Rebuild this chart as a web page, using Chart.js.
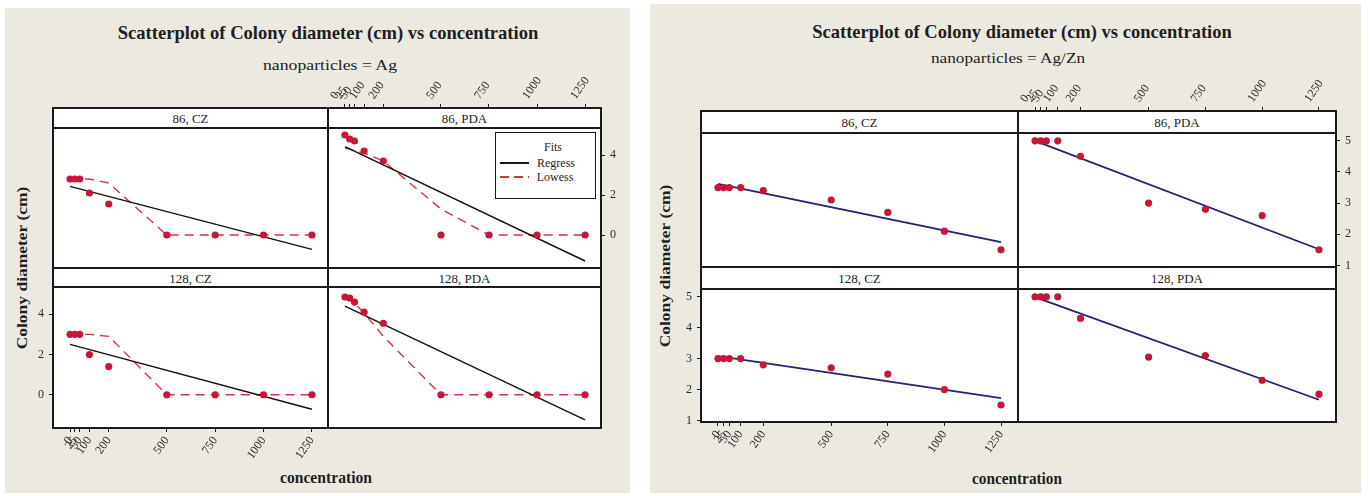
<!DOCTYPE html>
<html>
<head>
<meta charset="utf-8">
<script src="https://cdn.jsdelivr.net/npm/chart.js@4.4.1/dist/chart.umd.min.js"></script>
<style>
  html, body { margin: 0; padding: 0; background: #fff; width: 1370px; height: 496px; overflow: hidden; position: relative; }
  .bg   { position: absolute; background: #ece9e1; }
  .fill { position: absolute; background: #fff; }
  .rule { position: absolute; background: #1a1a1a; }
  .txt  { position: absolute; white-space: nowrap; color: #1e1e1e; line-height: 1; transform-origin: center center; }
  .legend { position: absolute; background: #fff; border: 1.5px solid #1a1a1a; box-sizing: border-box; }
  canvas { position: absolute; }
</style>
</head>
<body>
<script>
/* ─── Data ──────────────────────────────────────── */
const concentration = [0, 25, 50, 100, 200, 500, 750, 1000, 1250];
const concTicks     = [0, 25, 50, 100, 200, 500, 750, 1000, 1250];
const yTicksAg      = [0, 2, 4];
const yTicksAgZn    = [1, 2, 3, 4, 5];
const fitEnds       = [0, 1250];

// nanoparticles = Ag
const ag86CZ         = [2.8, 2.8, 2.8, 2.1, 1.55, 0, 0, 0, 0];
const ag86PDA        = [5.0, 4.8, 4.7, 4.2, 3.7, 0, 0, 0, 0];
const ag128CZ        = [3.0, 3.0, 3.0, 2.0, 1.4, 0, 0, 0, 0];
const ag128PDA       = [4.85, 4.8, 4.6, 4.1, 3.55, 0, 0, 0, 0];
const ag86CZReg      = [2.43, -0.72];
const ag86PDAReg     = [4.42, -1.3];
const ag128CZReg     = [2.5, -0.72];
const ag128PDAReg    = [4.4, -1.25];
const ag86CZLowess   = [2.8, 2.8, 2.8, 2.8, 2.6, 0, 0, 0, 0];
const ag86PDALowess  = [4.35, 4.3, 4.2, 4.1, 3.7, 1.3, 0, 0, 0];
const ag128CZLowess  = [3.0, 3.0, 3.0, 3.0, 2.9, 0, 0, 0, 0];
const ag128PDALowess = [4.75, 4.7, 4.55, 4.05, 2.9, 0, 0, 0, 0];

// nanoparticles = Ag/Zn
const agzn86CZ      = [3.5, 3.5, 3.5, 3.5, 3.4, 3.1, 2.7, 2.1, 1.5];
const agzn86PDA     = [5.0, 5.0, 5.0, 5.0, 4.5, 3.0, 2.8, 2.6, 1.5];
const agzn128CZ     = [3.0, 3.0, 3.0, 3.0, 2.8, 2.7, 2.5, 2.0, 1.5];
const agzn128PDA    = [5.0, 5.0, 5.0, 5.0, 4.3, 3.05, 3.1, 2.3, 1.85];
const agzn86CZReg   = [3.62, 1.75];
const agzn86PDAReg  = [5.0, 1.52];
const agzn128CZReg  = [3.08, 1.72];
const agzn128PDAReg = [4.99, 1.67];

/* ─── Layout ────────────────────────────────────── */
const SERIF  = "'Liberation Serif', 'Times New Roman', serif";
const RED    = '#c8163a';
const M      = 50;

const FIG_AG = {
  xs: [53, 328, 601],
  rows: [[108, 128, 268], [268, 287, 428]],
  xMin: -88, xMax: 1333, yMin: -1.65, yMax: 5.35,
  yTicks: yTicksAg, regColor: '#111', lowess: true,
};
const FIG_AGZN = {
  xs: [701, 1018, 1336],
  rows: [[111, 133, 267], [267, 289, 422]],
  xMin: -75, xMax: 1325, yMin: 0.95, yMax: 5.25,
  yTicks: yTicksAgZn, regColor: '#22226e', lowess: false,
};

/* ─── Helpers ───────────────────────────────────── */
const measure = document.createElement('canvas').getContext('2d');

function box(cls, x, y, w, h) {
  const d = document.createElement('div');
  d.className = cls;
  Object.assign(d.style, { left: x + 'px', top: y + 'px', width: w + 'px', height: h + 'px' });
  document.body.appendChild(d);
  return d;
}

function text(str, cx, cy, font, width, vertical) {
  const d = document.createElement('div');
  d.className = 'txt';
  d.textContent = str;
  d.style.font = font;
  measure.font = font;
  const sx = width ? width / measure.measureText(str).width : 1;
  d.style.left = cx + 'px';
  d.style.top  = cy + 'px';
  d.style.transform = `translate(-50%, -50%) ${vertical ? 'rotate(-90deg) ' : ''}scaleX(${sx})`;
  document.body.appendChild(d);
  return d;
}

function pts(ys) {
  return concentration.map((x, i) => ({ x, y: ys[i] }));
}

/* ─── Frame (strips, borders) ───────────────────── */
function drawFrame(fig, labels) {
  const [L, C, R] = fig.xs;
  const top = fig.rows[0][0], bot = fig.rows[1][2];
  box('fill', L, top, R - L, bot - top);
  const T = 1.5;
  [top, fig.rows[0][1], fig.rows[1][0], fig.rows[1][1], bot].forEach(y => box('rule', L, y - T / 2, R - L, T));
  [L, C, R].forEach(x => box('rule', x - T / 2, top - T / 2, T, bot - top + T));
  labels.forEach((lab, i) => {
    const col = i % 2, row = Math.floor(i / 2);
    const [s0, s1] = fig.rows[row];
    text(lab, (fig.xs[col] + fig.xs[col + 1]) / 2, (s0 + s1) / 2 + 1, `13px ${SERIF}`);
  });
}

/* ─── Panel chart ───────────────────────────────── */
function makePanel(fig, p) {
  const [sTop, pTop, pBot] = fig.rows[p.row];
  const left  = fig.xs[p.col], right = fig.xs[p.col + 1];
  const outer = p.row === 0 && p.col === 1;   // top + right axes
  const inner = p.row === 1 && p.col === 0;   // left + bottom axes
  const shown = outer || inner;
  const top   = outer ? sTop : pTop;
  const perUnit = (pBot - pTop) / (fig.yMax - fig.yMin);
  const yMax  = fig.yMax + (pTop - top) / perUnit;

  const cv = document.createElement('canvas');
  cv.width  = right - left + 2 * M;
  cv.height = pBot - top + 2 * M;
  cv.style.left = (left - M) + 'px';
  cv.style.top  = (top - M) + 'px';
  document.body.appendChild(cv);

  const tickFont = { family: SERIF, size: 12 };
  const grid = { drawOnChartArea: false, drawTicks: true, tickLength: 4, color: '#1a1a1a', lineWidth: 1 };

  const datasets = [
    {
      data: pts(p.y),
      backgroundColor: RED, borderColor: RED,
      pointRadius: 3.6, pointBorderWidth: 0, showLine: false,
    },
    {
      data: fitEnds.map((x, i) => ({ x, y: p.reg[i] })),
      borderColor: fig.regColor, borderWidth: fig.lowess ? 1.4 : 1.8,
      pointRadius: 0, showLine: true,
    },
  ];
  if (p.lowess) {
    datasets.push({
      data: pts(p.lowess),
      borderColor: '#d8323c', borderWidth: 1.4, borderDash: [9, 6],
      pointRadius: 0, showLine: true,
    });
  }

  new Chart(cv, {
    type: 'scatter',
    data: { datasets },
    options: {
      responsive: false,
      animation: false,
      devicePixelRatio: 1,
      layout: { padding: {
        left: inner ? 0 : M, right: outer ? 0 : M,
        top: outer ? 0 : M, bottom: inner ? 0 : M,
      } },
      plugins: { legend: { display: false }, tooltip: { enabled: false } },
      scales: {
        x: {
          type: 'linear',
          display: shown,
          position: outer ? 'top' : 'bottom',
          min: fig.xMin, max: fig.xMax,
          afterBuildTicks: s => { s.ticks = concTicks.map(v => ({ value: v })); },
          afterFit: s => {
            if (!shown) return;
            s.height = M; s.paddingLeft = s.paddingRight = 0;
          },
          grid, border: { display: false },
          ticks: {
            autoSkip: false, minRotation: 55, maxRotation: 55, padding: 2,
            color: '#2a2a2a', font: tickFont, callback: v => String(v),
          },
        },
        y: {
          type: 'linear',
          display: shown,
          position: outer ? 'right' : 'left',
          min: fig.yMin, max: yMax,
          afterBuildTicks: s => { s.ticks = fig.yTicks.map(v => ({ value: v })); },
          afterFit: s => {
            if (!shown) return;
            s.width = M; s.paddingTop = s.paddingBottom = 0;
          },
          grid, border: { display: false },
          ticks: { padding: 5, color: '#2a2a2a', font: tickFont, callback: v => String(v) },
        },
      },
    },
  });
}

/* ─── Build ─────────────────────────────────────── */
box('bg', 5, 8, 625, 485);
box('bg', 650, 4, 711, 489);

drawFrame(FIG_AG,   ['86, CZ', '86, PDA', '128, CZ', '128, PDA']);
drawFrame(FIG_AGZN, ['86, CZ', '86, PDA', '128, CZ', '128, PDA']);

const TITLE = 'Scatterplot of Colony diameter (cm) vs concentration';
text(TITLE, 328, 33, `bold 19px ${SERIF}`, 421);
text('nanoparticles = Ag', 330, 65, `15px ${SERIF}`, 135);
text('concentration', 326, 478, `bold 16px ${SERIF}`, 92);
text('Colony diameter (cm)', 22, 268, `bold 15px ${SERIF}`, 163, true);

text(TITLE, 1022, 32, `bold 19px ${SERIF}`, 420);
text('nanoparticles = Ag/Zn', 1008, 58, `15px ${SERIF}`, 155);
text('concentration', 1017, 479, `bold 16px ${SERIF}`, 90);
text('Colony diameter (cm)', 665, 266, `bold 15px ${SERIF}`, 163, true);

[
  { col: 0, row: 0, y: ag86CZ,   reg: ag86CZReg,   lowess: ag86CZLowess },
  { col: 1, row: 0, y: ag86PDA,  reg: ag86PDAReg,  lowess: ag86PDALowess },
  { col: 0, row: 1, y: ag128CZ,  reg: ag128CZReg,  lowess: ag128CZLowess },
  { col: 1, row: 1, y: ag128PDA, reg: ag128PDAReg, lowess: ag128PDALowess },
].forEach(p => makePanel(FIG_AG, p));

[
  { col: 0, row: 0, y: agzn86CZ,   reg: agzn86CZReg },
  { col: 1, row: 0, y: agzn86PDA,  reg: agzn86PDAReg },
  { col: 0, row: 1, y: agzn128CZ,  reg: agzn128CZReg },
  { col: 1, row: 1, y: agzn128PDA, reg: agzn128PDAReg },
].forEach(p => makePanel(FIG_AGZN, p));

/* ─── Legend (Ag, 86 PDA) ───────────────────────── */
box('legend', 495, 132, 101, 67);
text('Fits', 553, 147, `12px ${SERIF}`);
box('rule', 500, 162, 29, 1.5);
const dash = box('rule', 500, 176, 29, 1.5);
dash.style.background = 'repeating-linear-gradient(90deg, #d8323c 0 9px, transparent 9px 14px)';
text('Regress', 556, 163, `12px ${SERIF}`);
text('Lowess', 555, 177, `12px ${SERIF}`);
</script>
</body>
</html>
